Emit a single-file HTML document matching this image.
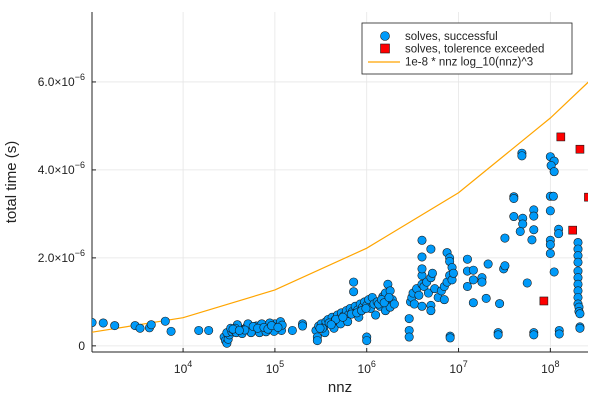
<!DOCTYPE html>
<html><head><meta charset="utf-8"><style>
html,body{margin:0;padding:0;background:#fff;}
svg{display:block;font-family:"Liberation Sans","DejaVu Sans",sans-serif;}
</style></head><body>
<svg id="chart" width="600" height="400"></svg>
<script>
// nnz and time (microseconds) for successful solves
const succNnz = [1.02e3,1.35e3,1.8e3,3.0e3,3.4e3,4.3e3,4.5e3,6.4e3,7.4e3,1.48e4,1.9e4,
2.8e4,2.9e4,3.0e4,3.1e4,3.2e4,3.0e4,3.4e4,3.6e4,3.8e4,4.0e4,4.2e4,4.5e4,4.8e4,5.0e4,5.3e4,5.6e4,6.0e4,6.3e4,6.6e4,7.0e4,7.4e4,7.8e4,8.2e4,8.6e4,9.0e4,9.5e4,1.0e5,1.05e5,1.1e5,1.15e5,1.18e5,1.2e5,4.4e4,5.5e4,6.8e4,8.0e4,9.8e4,3.3e4,3.9e4,5.1e4,7.2e4,8.8e4,
3.7e4,4.7e4,5.8e4,6.5e4,7.6e4,8.4e4,9.2e4,1.08e5,3.5e4,4.1e4,
1.55e5,2.0e5,2.0e5,
2.8e5,2.9e5,2.9e5,3.0e5,3.2e5,3.4e5,3.6e5,3.8e5,4.0e5,4.2e5,4.5e5,4.8e5,5.0e5,5.3e5,5.6e5,6.0e5,6.3e5,6.6e5,7.0e5,7.2e5,7.2e5,7.5e5,8.0e5,8.5e5,9.0e5,9.5e5,1.0e6,1.0e6,1.0e6,1.05e6,1.1e6,1.15e6,1.2e6,1.3e6,1.4e6,1.5e6,1.6e6,1.7e6,1.7e6,1.8e6,1.9e6,2.0e6,3.5e5,4.4e5,5.2e5,6.2e5,8.2e5,1.25e6,1.6e6,1.8e6,
3.3e5,3.9e5,4.6e5,5.5e5,6.8e5,7.8e5,8.8e5,9.8e5,1.35e6,1.45e6,1.55e6,1.75e6,3.1e5,4.1e5,
2.9e6,2.9e6,2.9e6,3.0e6,3.1e6,3.2e6,3.3e6,3.5e6,3.7e6,4.0e6,4.0e6,4.0e6,4.2e6,4.0e6,4.5e6,4.7e6,5.0e6,5.0e6,5.0e6,5.2e6,5.5e6,6.0e6,6.5e6,7.0e6,7.0e6,7.5e6,8.0e6,8.5e6,7.5e6,8.0e6,8.0e6,8.5e6,8.8e6,4.0e6,5.0e6,4.0e6,8.1e6,8.1e6,
1.25e7,1.25e7,1.45e7,1.45e7,1.8e7,1.8e7,1.25e7,1.45e7,2.0e7,2.1e7,2.8e7,3.1e7,3.2e7,3.2e7,2.7e7,2.7e7,
4.9e7,4.9e7,4.0e7,4.0e7,4.0e7,5.0e7,5.0e7,4.7e7,6.6e7,6.6e7,6.6e7,6.3e7,5.6e7,6.6e7,6.6e7,
1.0e8,1.1e8,1.02e8,1.1e8,1.0e8,1.08e8,1.0e8,1.23e8,1.23e8,1.0e8,1.0e8,1.0e8,1.1e8,1.25e8,1.25e8,
2.0e8,2.0e8,2.0e8,2.0e8,2.0e8,2.0e8,2.0e8,2.0e8,2.0e8,2.0e8,2.05e8,2.05e8,2.1e8,2.1e8,2.1e8];
const succTime = [0.53,0.52,0.46,0.46,0.40,0.41,0.48,0.56,0.33,0.35,0.35,
0.20,0.12,0.06,0.15,0.25,0.30,0.32,0.35,0.30,0.42,0.38,0.33,0.40,0.45,0.36,0.42,0.38,0.45,0.34,0.40,0.46,0.37,0.43,0.48,0.38,0.44,0.50,0.40,0.45,0.55,0.35,0.47,0.28,0.30,0.30,0.32,0.33,0.40,0.48,0.50,0.50,0.52,
0.40,0.36,0.44,0.40,0.42,0.38,0.46,0.42,0.38,0.35,
0.35,0.50,0.45,
0.35,0.20,0.12,0.45,0.50,0.42,0.55,0.60,0.50,0.65,0.58,0.70,0.62,0.75,0.68,0.80,0.70,0.85,0.78,1.45,1.23,0.90,0.82,0.95,0.88,1.00,0.92,0.20,0.12,1.05,0.85,1.10,0.95,1.00,0.90,1.12,0.80,1.40,1.00,0.88,1.05,0.95,0.30,0.40,0.50,0.55,0.65,0.70,1.20,1.25,
0.40,0.52,0.60,0.65,0.72,0.75,0.80,0.85,0.95,1.05,0.98,1.10,0.40,0.48,
0.62,0.35,0.20,1.00,1.10,1.20,0.95,1.30,1.15,1.40,1.60,1.75,1.35,0.90,1.45,1.20,0.92,0.80,1.55,1.65,1.30,1.10,1.25,1.35,1.05,1.45,1.60,1.50,2.12,2.00,1.92,1.78,1.65,2.40,2.20,2.02,0.22,0.18,
1.97,1.70,1.72,1.50,1.55,1.45,1.35,0.98,1.08,1.86,0.96,1.75,1.82,2.45,0.30,0.25,
4.38,4.32,3.39,3.35,2.94,2.90,2.77,2.60,3.09,2.95,2.64,2.41,1.43,0.30,0.25,
4.30,4.20,4.10,3.96,3.40,3.40,3.07,2.65,2.55,2.40,2.30,2.10,1.68,0.35,0.27,
2.35,2.20,2.05,1.90,1.70,1.55,1.40,1.25,1.10,0.95,0.88,0.78,0.73,0.43,0.40];
// tolerance exceeded
const failNnz = [8.5e7,1.3e8,1.75e8,2.1e8,2.6e8];
const failTime = [1.02,4.75,2.63,4.47,3.38];
// reference curve
const lineNnz = [1.02e3,1e4,1e5,1e6,1e7,1e8,2.6e8];
const lineTime = [0.31,0.64,1.27,2.22,3.48,5.18,6.0];
const xTickExp = [4,5,6,7,8];
const yTicks = [0,2,4,6];

const NS="http://www.w3.org/2000/svg";
const svg=document.getElementById('chart');
const L=92,R=588,T=12,B=352;
const lgMin=3.008,lgMax=8.41,vMin=-0.14,vMax=7.59;
const xs=n=>L+(Math.log10(n)-lgMin)/(lgMax-lgMin)*(R-L);
const ys=v=>B-(v-vMin)/(vMax-vMin)*(B-T);
function mk(tag,attrs,parent){const e=document.createElementNS(NS,tag);for(const k in attrs)e.setAttribute(k,attrs[k]);(parent||svg).appendChild(e);return e;}

const grid=mk('g',{});


xTickExp.forEach(e=>{const x=xs(Math.pow(10,e));mk('line',{x1:x,x2:x,y1:T,y2:B,stroke:'#e6e6e6','stroke-width':0.8},grid);});
yTicks.forEach(v=>{const y=ys(v);mk('line',{x1:L,x2:R,y1:y,y2:y,stroke:'#e6e6e6','stroke-width':0.8},grid);});

const axes=mk('g',{stroke:'#222','stroke-width':1});


mk('line',{x1:L,x2:L,y1:T,y2:B},axes);
mk('line',{x1:L,x2:R,y1:B,y2:B},axes);
xTickExp.forEach(e=>{const x=xs(Math.pow(10,e));mk('line',{x1:x,x2:x,y1:B,y2:B-4},axes);
 const t=mk('text',{x:x,y:B+21,'font-size':12,'text-anchor':'middle',fill:'#222',stroke:'none'});
 
 
 t.innerHTML='10<tspan dy="-6" font-size="9">'+e+'</tspan>';});
yTicks.forEach(v=>{const y=ys(v);mk('line',{x1:L,x2:L+4,y1:y,y2:y},axes);
 const t=mk('text',{x:L-7,y:y+4,'font-size':12,'text-anchor':'end',fill:'#222',stroke:'none'});
 
 
 t.innerHTML= v===0?'0':(v.toFixed(1)+'×10<tspan dy="-6" font-size="9">−6</tspan>');});

const xl=mk('text',{x:340,y:392,'font-size':15,'text-anchor':'middle',fill:'#222'});


xl.textContent='nnz';
const yl=mk('text',{x:0,y:0,'font-size':15,'text-anchor':'middle',fill:'#222',transform:'translate(16,182) rotate(-90)'});


yl.textContent='total time (s)';

const clip=mk('clipPath',{id:'pc'});mk('rect',{x:L,y:T,width:R-L,height:B-T},clip);
const plot=mk('g',{'clip-path':'url(#pc)'});



const ln=mk('polyline',{points:lineNnz.map((n,i)=>xs(n)+','+ys(lineTime[i])).join(' '),fill:'none',stroke:'#FFA500','stroke-width':1.2},plot);



succNnz.forEach((n,i)=>{const c=mk('circle',{cx:xs(n),cy:ys(succTime[i]),r:4.2,fill:'#009AF9',stroke:'#1a1a1a','stroke-width':0.6},plot);
 
 });
failNnz.forEach((n,i)=>{const r=mk('rect',{x:xs(n)-4,y:ys(failTime[i])-4,width:8,height:8,fill:'#FF0000',stroke:'#1a1a1a','stroke-width':0.6},plot);
 
 });

const lg=mk('g',{});


mk('rect',{x:362,y:23,width:210,height:51,fill:'#fff',stroke:'#222','stroke-width':0.8},lg);
mk('circle',{cx:385,cy:36,r:4.5,fill:'#009AF9',stroke:'#1a1a1a','stroke-width':0.6},lg);
mk('rect',{x:380.5,y:44,width:9,height:9,fill:'#FF0000',stroke:'#1a1a1a','stroke-width':0.6},lg);
mk('line',{x1:368,x2:400,y1:62,y2:62,stroke:'#FFA500','stroke-width':1.2},lg);
[['solves, successful',40],['solves, tolerence exceeded',52.5],['1e-8 * nnz log_10(nnz)^3',65.5]].forEach(([s,y])=>{
 const t=mk('text',{x:405,y:y,'font-size':11.5,fill:'#222'},lg);
 
 
 t.textContent=s;});
</script>
</body></html>
